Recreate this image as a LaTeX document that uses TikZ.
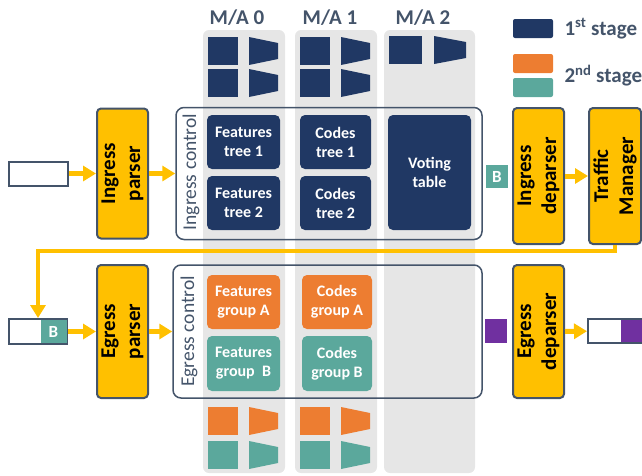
\documentclass[tikz,border=0pt]{standalone}
\usepackage{fontspec}
\setmainfont{Carlito}
\usepackage{tikz}
\usetikzlibrary{arrows.meta}
\definecolor{navy}{HTML}{203864}
\definecolor{stageorange}{HTML}{ED7D31}
\definecolor{stageteal}{HTML}{5BA89C}
\definecolor{pipeyellow}{HTML}{FFC000}
\definecolor{metapurple}{HTML}{7030A0}
\definecolor{colgray}{HTML}{E6E6E6}
\definecolor{linegray}{HTML}{44546A}
\tikzset{
  colbg/.style={fill=colgray, rounded corners=6pt},
  malabel/.style={anchor=base, text=linegray, font=\fontsize{21}{24}\selectfont\bfseries},
  block/.style={draw=linegray, line width=2pt, rounded corners=4pt, fill=pipeyellow, rotate=90, align=center, inner sep=0pt, minimum height=51pt, font=\fontsize{21}{25}\selectfont\bfseries},
  ctrlframe/.style={draw=linegray, line width=1.5pt, rounded corners=8pt, inner sep=0pt},
  ctrllabel/.style={rotate=90, text=linegray, font=\fontsize{19.5}{22}\selectfont},
  mabox/.style={rounded corners=5pt, align=center, inner sep=0pt, text=white, minimum width=73pt, minimum height=54pt, font=\fontsize{16}{19}\selectfont\bfseries},
  packet/.style={draw=linegray, line width=2pt, fill=white, inner sep=0pt, minimum width=58pt, minimum height=24pt},
  tag/.style={inner sep=0pt, text=white, font=\fontsize{17}{19}\selectfont\bfseries},
  legendbox/.style={rounded corners=2pt, inner sep=0pt, minimum width=40pt, minimum height=19pt},
  legendtext/.style={anchor=west, text=linegray, font=\fontsize{21}{24}\selectfont\bfseries},
  flow/.style={-{Triangle[length=13pt,width=15pt]}, line width=5pt, draw=pipeyellow},
  loopline/.style={-{Triangle[length=13pt,width=15pt]}, line width=4.5pt, draw=pipeyellow},
  matunit/.pic={\fill[#1] (0,0) rectangle (30,28); \fill[#1] (41,0) -- (70,6) -- (70,22) -- (41,28) -- cycle;}
}
\begin{document}
\begin{tikzpicture}[x=1pt, y=-1pt]
  \useasboundingbox (0,0) rectangle (642,475);

  \fill[colbg] (203,30) rectangle (285,473);
  \fill[colbg] (295,30) rectangle (377,473);
  \fill[colbg] (384,30) rectangle (475,473);
  \node[malabel] (ma0) at (237,24) {M/A 0};
  \node[malabel] (ma1) at (330,24) {M/A 1};
  \node[malabel] (ma2) at (423,24) {M/A 2};

  \pic at (208,37) {matunit=navy};
  \pic at (208,69) {matunit=navy};
  \pic at (300,37) {matunit=navy};
  \pic at (300,69) {matunit=navy};
  \pic[xscale=1.1] at (389,36) {matunit=navy};
  \pic at (208,407) {matunit=stageorange};
  \pic at (208,441) {matunit=stageteal};
  \pic at (300,407) {matunit=stageorange};
  \pic at (300,441) {matunit=stageteal};

  \node[legendbox, fill=navy] (leg1) at (533,28.5) {};
  \node[legendbox, fill=stageorange] (leg2a) at (533,63.5) {};
  \node[legendbox, fill=stageteal] (leg2b) at (533,87.5) {};
  \node[legendtext] (leg1txt) at (561,28.5) {1\textsuperscript{st} stage};
  \node[legendtext] (leg2txt) at (561,75.5) {2\textsuperscript{nd} stage};

  \node[packet, minimum width=59pt] (inpkt) at (38.5,173.5) {};
  \node[block, minimum width=130pt] (inparser) at (122.5,173.5) {Ingress\\parser};
  \node[ctrlframe, minimum width=306pt, minimum height=132pt] (ingress) at (329,173.5) {};
  \node[ctrllabel] (inlabel) at (191,172) {Ingress control};
  \node[mabox, fill=navy] (feat1) at (243.5,142) {Features\\tree 1};
  \node[mabox, fill=navy] (feat2) at (243.5,203) {Features\\tree 2};
  \node[mabox, fill=navy, minimum width=71pt] (codes1) at (335.5,142) {Codes\\tree 1};
  \node[mabox, fill=navy, minimum width=71pt] (codes2) at (335.5,203) {Codes\\tree 2};
  \node[mabox, fill=navy, minimum width=83pt, minimum height=115pt] (voting) at (429.5,172.5) {Voting\\table};
  \node[tag, fill=stageteal, minimum width=22pt, minimum height=23pt] (btag) at (497,176.5) {B};
  \node[block, minimum width=136pt] (indeparser) at (538.5,176) {Ingress\\deparser};
  \node[block, minimum width=136pt, minimum height=52pt] (tm) at (615,176) {Traffic\\Manager};

  \node[packet, minimum height=25pt] (egpkt) at (38,331.5) {};
  \node[tag, fill=stageteal, minimum width=26pt, minimum height=23pt] (egB) at (53.5,331.5) {B};
  \node[block, minimum width=133pt] (egparser) at (122.5,331.5) {Egress\\parser};
  \node[ctrlframe, minimum width=309pt, minimum height=133pt] (egress) at (327.5,331.5) {};
  \node[ctrllabel] (eglabel) at (189,331.5) {Egress control};
  \node[mabox, fill=stageorange] (featA) at (243.5,302) {Features\\group A};
  \node[mabox, fill=stageteal, minimum height=55pt] (featB) at (243.5,363.5) {Features\\group\ \ B};
  \node[mabox, fill=stageorange, minimum width=70pt] (codesA) at (337,302) {Codes\\group A};
  \node[mabox, fill=stageteal, minimum width=70pt, minimum height=55pt] (codesB) at (337,363.5) {Codes\\group B};
  \node[tag, fill=metapurple, minimum width=22pt, minimum height=24pt] (meta) at (496,331) {};
  \node[block, minimum width=133pt] (egdeparser) at (538.5,331.5) {Egress\\deparser};
  \node[packet, minimum width=58pt] (outpkt) at (617,331) {};
  \node[tag, fill=metapurple, minimum width=25pt, minimum height=22pt] (outmeta) at (633,331) {};

  \coordinate (bend) at (615,251);

  \draw[flow] (inpkt) -- (inparser);
  \draw[flow] (inparser) -- (ingress);
  \draw[flow] (indeparser) -- (tm);
  \draw[loopline] (tm) -- (bend) -| (egpkt);
  \draw[flow] (egpkt) -- (egparser);
  \draw[flow] (egparser) -- (egress);
  \draw[flow] (egdeparser) -- (outpkt);
\end{tikzpicture}
\end{document}
